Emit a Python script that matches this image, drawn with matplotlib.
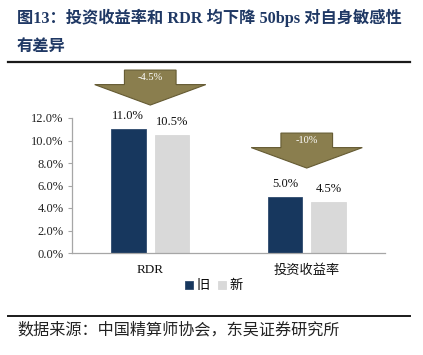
import numpy as np
import matplotlib
matplotlib.use("Agg")
import matplotlib.pyplot as plt
from matplotlib.patches import Polygon
from matplotlib.lines import Line2D

# =========================
# DATA
# =========================
categories = ["RDR", "投资收益率"]
old_values = [11.0, 5.0]
new_values = [10.5, 4.5]
series_names = ["旧", "新"]
change_labels = ["-4.5%", "-10%"]
y_ticks = [0, 2, 4, 6, 8, 10, 12]

title_line1 = "图13：投资收益率和 RDR 均下降 50bps 对自身敏感性"
title_line2 = "有差异"
source_text = "数据来源：中国精算师协会，东吴证券研究所"

# =========================
# STYLE
# =========================
OLD_COLOR = "#17375E"
NEW_COLOR = "#D9D9D9"
ARROW_FILL = "#8A7E4E"
ARROW_EDGE = "#655B33"
TITLE_COLOR = "#1F3864"
SERIF_CJK = ["Liberation Serif", "Noto Sans CJK SC"]
CJK = ["Noto Sans CJK SC", "DejaVu Sans"]

W, H = 423, 355
fig = plt.figure(figsize=(W / 100, H / 100), dpi=100)

ax_left, ax_right = 72 / W, 385 / W
ax_bottom, ax_top = 1 - 253 / H, 1 - 118 / H
ax = fig.add_axes([ax_left, ax_bottom, ax_right - ax_left, ax_top - ax_bottom])

x = np.arange(len(categories))
bar_w = 0.22
offset = 0.14
ax.bar(x - offset, old_values, bar_w, color=OLD_COLOR, edgecolor="#2E4A6E",
       linewidth=0.6, label=series_names[0])
ax.bar(x + offset, new_values, bar_w, color=NEW_COLOR, edgecolor=NEW_COLOR,
       linewidth=0.6, label=series_names[1])

for xi, v in zip(x - offset, old_values):
    ax.text(xi, v + 1.15, f"{v:.1f}%", ha="center", va="center",
            fontsize=9, family="Liberation Serif", color="#111111")
for xi, v in zip(x + offset, new_values):
    ax.text(xi, v + 1.15, f"{v:.1f}%", ha="center", va="center",
            fontsize=9, family="Liberation Serif", color="#111111")

# down arrows above each group
body_hw, head_hw = 0.165, 0.355
body_h, head_h = 1.29, 1.82
tip_gap = [2.15, 2.55]
for xi, v, lab, gap in zip(x, old_values, change_labels, tip_gap):
    tip = v + gap
    shoulder = tip + head_h
    top = shoulder + body_h
    pts = [(xi - body_hw, top), (xi + body_hw, top), (xi + body_hw, shoulder),
           (xi + head_hw, shoulder), (xi, tip), (xi - head_hw, shoulder),
           (xi - body_hw, shoulder)]
    ax.add_patch(Polygon(pts, closed=True, facecolor=ARROW_FILL,
                         edgecolor=ARROW_EDGE, linewidth=0.8, clip_on=False,
                         zorder=3))
    ax.text(xi, (top + shoulder) / 2, lab, ha="center", va="center",
            fontsize=7.5, family="Liberation Serif", color="white", zorder=4)

ax.set_xlim(-0.5, 1.5)
ax.set_ylim(0, 12)
ax.set_yticks(y_ticks)
ax.set_yticklabels([f"{t:.1f}%" for t in y_ticks], family="Liberation Serif",
                   fontsize=9, color="#222222")
ax.set_xticks(x)
ax.set_xticklabels(categories, fontsize=9.5, family=SERIF_CJK, color="#111111")
ax.tick_params(axis="x", length=0, pad=8)
ax.tick_params(axis="y", length=3, color="#A6A6A6", width=0.8, pad=3)
for side in ["top", "right"]:
    ax.spines[side].set_visible(False)
for side in ["left", "bottom"]:
    ax.spines[side].set_color("#A6A6A6")
    ax.spines[side].set_linewidth(0.9)

fig.legend(loc="center", bbox_to_anchor=(214 / W, 1 - 286 / H), ncol=2,
           frameon=False, prop={"family": CJK, "size": 9.5},
           handlelength=0.6, handleheight=0.6, handletextpad=0.3,
           columnspacing=0.6, borderpad=0)

# title, rules, source
fig.text(17 / W, 1 - 18 / H, title_line1, ha="left", va="center",
         fontsize=11.7, fontweight="bold", family=SERIF_CJK, color=TITLE_COLOR)
fig.text(17 / W, 1 - 47 / H, title_line2, ha="left", va="center",
         fontsize=11.7, fontweight="bold", family=SERIF_CJK, color=TITLE_COLOR)
fig.add_artist(Line2D([8 / W, 410 / W], [1 - 62 / H, 1 - 62 / H],
                      color="#1a1a1a", linewidth=1.6))
fig.add_artist(Line2D([8 / W, 410 / W], [1 - 315.5 / H, 1 - 315.5 / H],
                      color="#1a1a1a", linewidth=1.4))
fig.text(17 / W, 1 - 330 / H, source_text, ha="left", va="center",
         fontsize=11.6, family=CJK, color="#222222")

fig.savefig("out.png", dpi=100)
